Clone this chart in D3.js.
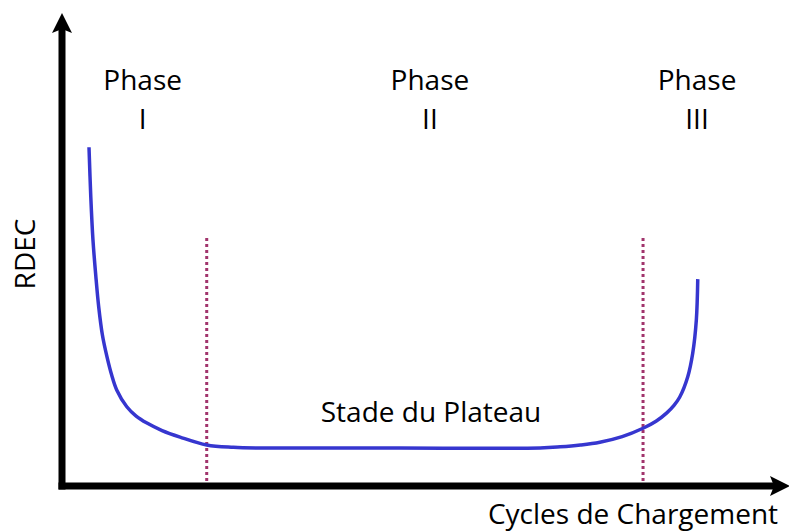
<!DOCTYPE html>
<html>
<head>
<meta charset="utf-8">
<script src="https://cdn.jsdelivr.net/npm/d3@7"></script>
<style>
  body { margin: 0; background: #fff; }
  text { font-family: "Open Sans", sans-serif; fill: #000; }
</style>
</head>
<body>
<div id="chart"></div>
<script>
    // curve (x: cycles, y: RDEC, both in 0..100 units)
    var cycles = [3.75, 4.0, 4.3, 4.7, 5.1, 5.6, 6.25, 6.9, 7.6, 9.0, 10.3, 11.8, 13.9, 16.4, 20.1, 23.8, 27.5, 46.9, 66.4, 69.2, 72.0, 74.7, 77.8, 80.7, 82.5, 84.0, 85.0, 85.8, 86.9, 87.6, 88.1, 88.3];
    var rdec   = [72.7, 62.0, 52.8, 45.0, 38.4, 32.5, 27.7, 23.8, 20.6, 17.0, 15.0, 13.5, 11.9, 10.5, 8.8, 8.3, 8.15, 8.15, 8.15, 8.4, 8.8, 9.4, 10.6, 12.4, 13.9, 15.7, 17.3, 19.1, 23.4, 28.5, 35.6, 44.4];

    // phase boundaries (dotted lines)
    var boundaries = [20.1, 80.7];
    var boundaryTop = 53.2;

    // phase labels
    var phaseNames = ["I", "II", "III"];
    var phaseCenters = [11.2, 51.1, 88.2];

    var width = 789, height = 531;
    var svg = d3.select("#chart").append("svg")
        .attr("width", width)
        .attr("height", height);

    var x = d3.scaleLinear().domain([0, 100]).range([62, 782]);
    var y = d3.scaleLinear().domain([0, 100]).range([486, 20]);

    // dotted boundaries
    svg.append("g")
      .selectAll("line")
      .data(boundaries)
      .enter().append("line")
        .attr("x1", function(d) { return x(d); })
        .attr("x2", function(d) { return x(d); })
        .attr("y1", y(boundaryTop))
        .attr("y2", y(0))
        .attr("stroke", "#a1346c")
        .attr("stroke-width", 3)
        .attr("stroke-dasharray", "3,3");

    // curve
    var pts = cycles.map(function(c, i) { return [c, rdec[i]]; });
    var line = d3.line()
        .x(function(d) { return x(d[0]); })
        .y(function(d) { return y(d[1]); })
        .curve(d3.curveCatmullRom.alpha(0.5));

    svg.append("path")
        .datum(pts)
        .attr("d", line)
        .attr("fill", "none")
        .attr("stroke", "#3636cf")
        .attr("stroke-width", 3.5);

    // axes
    var x0 = x.range()[0], y0 = y.range()[0];
    var axes = svg.append("g");
    axes.append("line")
        .attr("x1", x0).attr("y1", y0 + 3.5)
        .attr("x2", x0).attr("y2", 28)
        .attr("stroke", "#000").attr("stroke-width", 7);
    axes.append("line")
        .attr("x1", x0 - 3.5).attr("y1", y0)
        .attr("x2", 775).attr("y2", y0)
        .attr("stroke", "#000").attr("stroke-width", 7);
    // arrow heads
    axes.append("path")
        .attr("d", "M" + x0 + ",13 L" + (x0 + 10) + ",33 L" + x0 + ",29 L" + (x0 - 10) + ",33 Z")
        .attr("fill", "#000");
    axes.append("path")
        .attr("d", "M790," + y0 + " L770," + (y0 - 10) + " L774," + y0 + " L770," + (y0 + 10) + " Z")
        .attr("fill", "#000");

    // phase labels
    var lab = svg.append("g").selectAll("g")
        .data(phaseNames)
        .enter().append("g");
    lab.append("text")
        .attr("x", function(d, i) { return x(phaseCenters[i]); })
        .attr("y", 90)
        .attr("text-anchor", "middle")
        .style("font-size", "28px")
        .text("Phase");
    lab.append("text")
        .attr("x", function(d, i) { return x(phaseCenters[i]); })
        .attr("y", 129)
        .attr("text-anchor", "middle")
        .style("font-size", "28px")
        .text(function(d) { return d; });

    svg.append("text")
        .attr("x", 431)
        .attr("y", 422)
        .attr("text-anchor", "middle")
        .style("font-size", "28px")
        .text("Stade du Plateau");

    svg.append("text")
        .attr("x", 633)
        .attr("y", 524)
        .attr("text-anchor", "middle")
        .style("font-size", "28px")
        .text("Cycles de Chargement");

    svg.append("text")
        .attr("transform", "translate(35,254) rotate(-90)")
        .attr("text-anchor", "middle")
        .style("font-size", "28px")
        .text("RDEC");
</script>
</body>
</html>
